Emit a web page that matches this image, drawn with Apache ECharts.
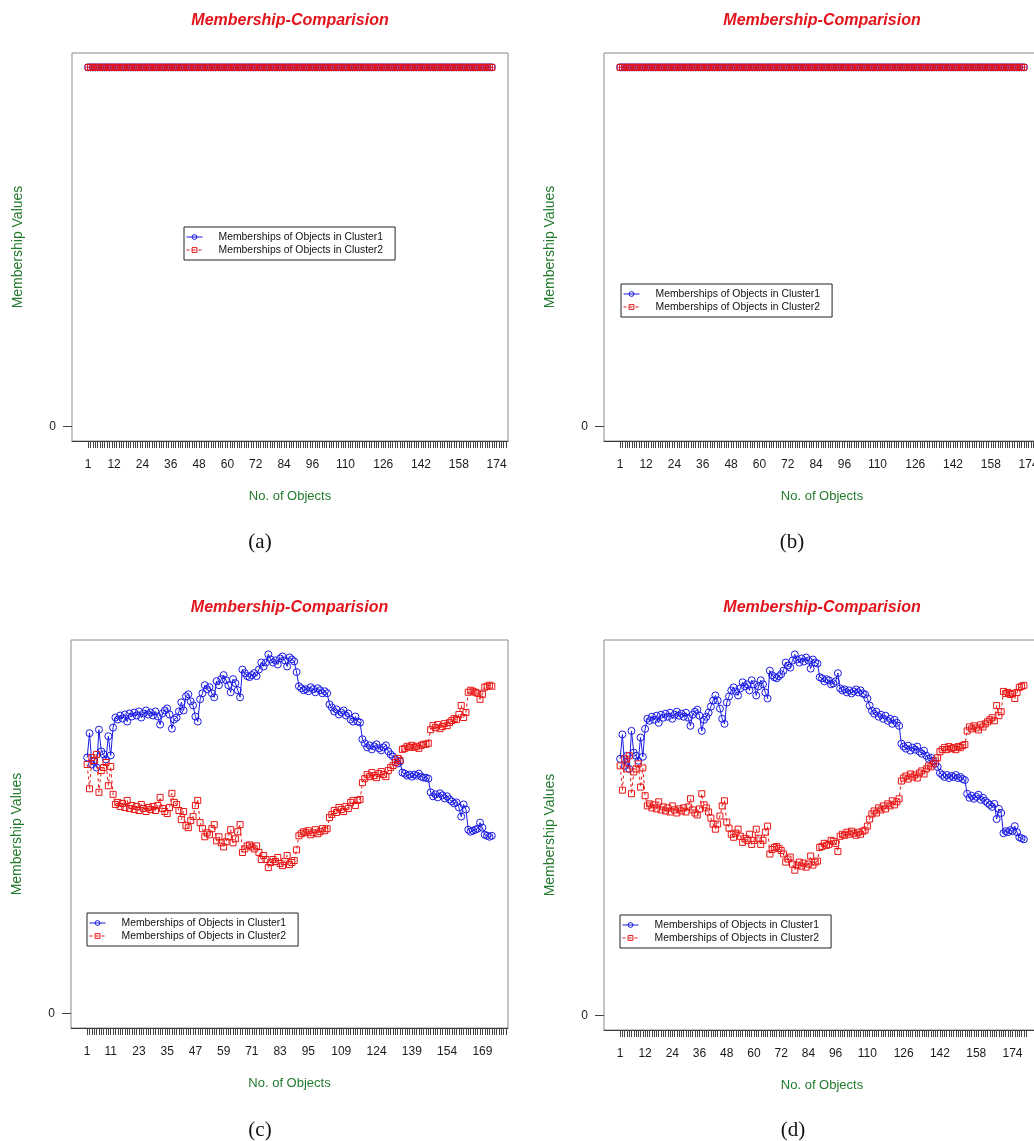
<!DOCTYPE html>
<html>
<head>
<meta charset="utf-8">
<title>Membership-Comparision</title>
<script src="https://cdn.jsdelivr.net/npm/echarts@6/dist/echarts.min.js"></script>
<style>
  html, body { margin: 0; padding: 0; background: #ffffff; }
  #chart { width: 1034px; height: 1141px; }
</style>
</head>
<body>
<div id="chart"></div>
<script>
// ---- membership values, one entry per object ----
// (a): every object shares both clusters equally
const aCluster1 = [
  0.5,0.5,0.5,0.5,0.5,0.5,0.5,0.5,0.5,0.5, 0.5,0.5,0.5,0.5,0.5,0.5,0.5,0.5,0.5,0.5,
  0.5,0.5,0.5,0.5,0.5,0.5,0.5,0.5,0.5,0.5, 0.5,0.5,0.5,0.5,0.5,0.5,0.5,0.5,0.5,0.5,
  0.5,0.5,0.5,0.5,0.5,0.5,0.5,0.5,0.5,0.5, 0.5,0.5,0.5,0.5,0.5,0.5,0.5,0.5,0.5,0.5,
  0.5,0.5,0.5,0.5,0.5,0.5,0.5,0.5,0.5,0.5, 0.5,0.5,0.5,0.5,0.5,0.5,0.5,0.5,0.5,0.5,
  0.5,0.5,0.5,0.5,0.5,0.5,0.5,0.5,0.5,0.5, 0.5,0.5,0.5,0.5,0.5,0.5,0.5,0.5,0.5,0.5,
  0.5,0.5,0.5,0.5,0.5,0.5,0.5,0.5,0.5,0.5, 0.5,0.5,0.5,0.5,0.5,0.5,0.5,0.5,0.5,0.5,
  0.5,0.5,0.5,0.5,0.5,0.5,0.5,0.5,0.5,0.5, 0.5,0.5,0.5,0.5,0.5,0.5,0.5,0.5,0.5,0.5,
  0.5,0.5,0.5,0.5,0.5,0.5,0.5,0.5,0.5,0.5, 0.5,0.5,0.5,0.5,0.5,0.5,0.5,0.5,0.5,0.5,
  0.5,0.5,0.5,0.5,0.5,0.5,0.5,0.5,0.5,0.5, 0.5,0.5
];
const aCluster2 = [
  0.5,0.5,0.5,0.5,0.5,0.5,0.5,0.5,0.5,0.5, 0.5,0.5,0.5,0.5,0.5,0.5,0.5,0.5,0.5,0.5,
  0.5,0.5,0.5,0.5,0.5,0.5,0.5,0.5,0.5,0.5, 0.5,0.5,0.5,0.5,0.5,0.5,0.5,0.5,0.5,0.5,
  0.5,0.5,0.5,0.5,0.5,0.5,0.5,0.5,0.5,0.5, 0.5,0.5,0.5,0.5,0.5,0.5,0.5,0.5,0.5,0.5,
  0.5,0.5,0.5,0.5,0.5,0.5,0.5,0.5,0.5,0.5, 0.5,0.5,0.5,0.5,0.5,0.5,0.5,0.5,0.5,0.5,
  0.5,0.5,0.5,0.5,0.5,0.5,0.5,0.5,0.5,0.5, 0.5,0.5,0.5,0.5,0.5,0.5,0.5,0.5,0.5,0.5,
  0.5,0.5,0.5,0.5,0.5,0.5,0.5,0.5,0.5,0.5, 0.5,0.5,0.5,0.5,0.5,0.5,0.5,0.5,0.5,0.5,
  0.5,0.5,0.5,0.5,0.5,0.5,0.5,0.5,0.5,0.5, 0.5,0.5,0.5,0.5,0.5,0.5,0.5,0.5,0.5,0.5,
  0.5,0.5,0.5,0.5,0.5,0.5,0.5,0.5,0.5,0.5, 0.5,0.5,0.5,0.5,0.5,0.5,0.5,0.5,0.5,0.5,
  0.5,0.5,0.5,0.5,0.5,0.5,0.5,0.5,0.5,0.5, 0.5,0.5
];
// (b): same flat split
const bCluster1 = [
  0.5,0.5,0.5,0.5,0.5,0.5,0.5,0.5,0.5,0.5, 0.5,0.5,0.5,0.5,0.5,0.5,0.5,0.5,0.5,0.5,
  0.5,0.5,0.5,0.5,0.5,0.5,0.5,0.5,0.5,0.5, 0.5,0.5,0.5,0.5,0.5,0.5,0.5,0.5,0.5,0.5,
  0.5,0.5,0.5,0.5,0.5,0.5,0.5,0.5,0.5,0.5, 0.5,0.5,0.5,0.5,0.5,0.5,0.5,0.5,0.5,0.5,
  0.5,0.5,0.5,0.5,0.5,0.5,0.5,0.5,0.5,0.5, 0.5,0.5,0.5,0.5,0.5,0.5,0.5,0.5,0.5,0.5,
  0.5,0.5,0.5,0.5,0.5,0.5,0.5,0.5,0.5,0.5, 0.5,0.5,0.5,0.5,0.5,0.5,0.5,0.5,0.5,0.5,
  0.5,0.5,0.5,0.5,0.5,0.5,0.5,0.5,0.5,0.5, 0.5,0.5,0.5,0.5,0.5,0.5,0.5,0.5,0.5,0.5,
  0.5,0.5,0.5,0.5,0.5,0.5,0.5,0.5,0.5,0.5, 0.5,0.5,0.5,0.5,0.5,0.5,0.5,0.5,0.5,0.5,
  0.5,0.5,0.5,0.5,0.5,0.5,0.5,0.5,0.5,0.5, 0.5,0.5,0.5,0.5,0.5,0.5,0.5,0.5,0.5,0.5,
  0.5,0.5,0.5,0.5,0.5,0.5,0.5,0.5,0.5,0.5, 0.5,0.5
];
const bCluster2 = [
  0.5,0.5,0.5,0.5,0.5,0.5,0.5,0.5,0.5,0.5, 0.5,0.5,0.5,0.5,0.5,0.5,0.5,0.5,0.5,0.5,
  0.5,0.5,0.5,0.5,0.5,0.5,0.5,0.5,0.5,0.5, 0.5,0.5,0.5,0.5,0.5,0.5,0.5,0.5,0.5,0.5,
  0.5,0.5,0.5,0.5,0.5,0.5,0.5,0.5,0.5,0.5, 0.5,0.5,0.5,0.5,0.5,0.5,0.5,0.5,0.5,0.5,
  0.5,0.5,0.5,0.5,0.5,0.5,0.5,0.5,0.5,0.5, 0.5,0.5,0.5,0.5,0.5,0.5,0.5,0.5,0.5,0.5,
  0.5,0.5,0.5,0.5,0.5,0.5,0.5,0.5,0.5,0.5, 0.5,0.5,0.5,0.5,0.5,0.5,0.5,0.5,0.5,0.5,
  0.5,0.5,0.5,0.5,0.5,0.5,0.5,0.5,0.5,0.5, 0.5,0.5,0.5,0.5,0.5,0.5,0.5,0.5,0.5,0.5,
  0.5,0.5,0.5,0.5,0.5,0.5,0.5,0.5,0.5,0.5, 0.5,0.5,0.5,0.5,0.5,0.5,0.5,0.5,0.5,0.5,
  0.5,0.5,0.5,0.5,0.5,0.5,0.5,0.5,0.5,0.5, 0.5,0.5,0.5,0.5,0.5,0.5,0.5,0.5,0.5,0.5,
  0.5,0.5,0.5,0.5,0.5,0.5,0.5,0.5,0.5,0.5, 0.5,0.5
];
// (c): 173 objects
const cCluster1 = [
  0.507,0.555,0.493,0.499,0.487,0.562,0.519,0.513,0.503,0.549,
  0.511,0.566,0.586,0.582,0.590,0.584,0.592,0.578,0.594,0.588,
  0.596,0.590,0.598,0.586,0.594,0.600,0.592,0.596,0.590,0.598,
  0.588,0.572,0.594,0.600,0.604,0.592,0.564,0.582,0.586,0.598,
  0.616,0.600,0.628,0.632,0.618,0.610,0.588,0.578,0.622,0.634,
  0.650,0.642,0.646,0.634,0.626,0.658,0.650,0.662,0.670,0.660,
  0.650,0.636,0.662,0.654,0.640,0.626,0.681,0.674,0.668,0.666,
  0.670,0.674,0.668,0.681,0.695,0.687,0.695,0.711,0.701,0.695,
  0.699,0.691,0.703,0.707,0.699,0.687,0.705,0.701,0.697,0.676,
  0.648,0.644,0.640,0.642,0.638,0.646,0.642,0.636,0.644,0.640,
  0.634,0.638,0.634,0.612,0.606,0.598,0.602,0.592,0.596,0.600,
  0.590,0.594,0.582,0.578,0.588,0.578,0.576,0.543,0.535,0.527,
  0.531,0.523,0.529,0.533,0.525,0.521,0.527,0.531,0.519,0.513,
  0.509,0.503,0.495,0.499,0.477,0.475,0.471,0.473,0.469,0.473,
  0.471,0.475,0.469,0.467,0.467,0.465,0.438,0.430,0.434,0.428,
  0.436,0.432,0.426,0.430,0.424,0.420,0.416,0.418,0.408,0.390,
  0.414,0.404,0.364,0.360,0.362,0.364,0.366,0.378,0.368,0.354,
  0.352,0.350,0.352
];
const cCluster2 = [
  0.493,0.445,0.507,0.501,0.513,0.438,0.481,0.487,0.497,0.451,
  0.489,0.434,0.414,0.418,0.410,0.416,0.408,0.422,0.406,0.412,
  0.404,0.410,0.402,0.414,0.406,0.400,0.408,0.404,0.410,0.402,
  0.412,0.428,0.406,0.400,0.396,0.408,0.436,0.418,0.414,0.402,
  0.384,0.400,0.372,0.368,0.382,0.390,0.412,0.422,0.378,0.366,
  0.350,0.358,0.354,0.366,0.374,0.342,0.350,0.338,0.330,0.340,
  0.350,0.364,0.338,0.346,0.360,0.374,0.319,0.326,0.332,0.334,
  0.330,0.326,0.332,0.319,0.305,0.313,0.305,0.289,0.299,0.305,
  0.301,0.309,0.297,0.293,0.301,0.313,0.295,0.299,0.303,0.324,
  0.352,0.356,0.360,0.358,0.362,0.354,0.358,0.364,0.356,0.360,
  0.366,0.362,0.366,0.388,0.394,0.402,0.398,0.408,0.404,0.400,
  0.410,0.406,0.418,0.422,0.412,0.422,0.424,0.457,0.465,0.473,
  0.469,0.477,0.471,0.467,0.475,0.479,0.473,0.469,0.481,0.487,
  0.491,0.497,0.505,0.501,0.523,0.525,0.529,0.527,0.531,0.527,
  0.529,0.525,0.531,0.533,0.533,0.535,0.562,0.570,0.566,0.572,
  0.564,0.568,0.574,0.570,0.576,0.580,0.584,0.582,0.592,0.610,
  0.586,0.596,0.636,0.640,0.638,0.636,0.634,0.622,0.632,0.646,
  0.648,0.650,0.648
];
// (d): 179 objects
const dCluster1 = [
  0.507,0.555,0.493,0.513,0.487,0.562,0.519,0.513,0.503,0.549,
  0.511,0.566,0.586,0.582,0.590,0.584,0.592,0.578,0.594,0.588,
  0.596,0.590,0.598,0.586,0.594,0.600,0.592,0.596,0.590,0.598,
  0.588,0.572,0.594,0.600,0.604,0.592,0.562,0.584,0.590,0.598,
  0.610,0.622,0.632,0.622,0.606,0.586,0.576,0.618,0.630,0.642,
  0.648,0.640,0.632,0.646,0.658,0.650,0.654,0.642,0.662,0.654,
  0.632,0.650,0.662,0.654,0.638,0.626,0.681,0.672,0.668,0.666,
  0.670,0.674,0.681,0.697,0.691,0.687,0.701,0.713,0.703,0.697,
  0.705,0.699,0.707,0.701,0.685,0.703,0.697,0.695,0.668,0.666,
  0.660,0.664,0.662,0.654,0.656,0.660,0.676,0.646,0.642,0.644,
  0.638,0.642,0.636,0.640,0.644,0.638,0.642,0.636,0.634,0.626,
  0.612,0.602,0.596,0.600,0.590,0.594,0.586,0.592,0.582,0.586,
  0.576,0.584,0.578,0.572,0.537,0.531,0.527,0.533,0.523,0.529,
  0.525,0.531,0.521,0.517,0.523,0.513,0.507,0.509,0.503,0.497,
  0.491,0.479,0.475,0.471,0.475,0.469,0.473,0.471,0.475,0.469,
  0.471,0.467,0.465,0.438,0.430,0.434,0.428,0.432,0.436,0.426,
  0.430,0.424,0.420,0.416,0.412,0.418,0.388,0.408,0.400,0.360,
  0.364,0.362,0.366,0.364,0.374,0.362,0.352,0.350,0.348
];
const dCluster2 = [
  0.493,0.445,0.507,0.487,0.513,0.438,0.481,0.487,0.497,0.451,
  0.489,0.434,0.414,0.418,0.410,0.416,0.408,0.422,0.406,0.412,
  0.404,0.410,0.402,0.414,0.406,0.400,0.408,0.404,0.410,0.402,
  0.412,0.428,0.406,0.400,0.396,0.408,0.438,0.416,0.410,0.402,
  0.390,0.378,0.368,0.378,0.394,0.414,0.424,0.382,0.370,0.358,
  0.352,0.360,0.368,0.354,0.342,0.350,0.346,0.358,0.338,0.346,
  0.368,0.350,0.338,0.346,0.362,0.374,0.319,0.328,0.332,0.334,
  0.330,0.326,0.319,0.303,0.309,0.313,0.299,0.287,0.297,0.303,
  0.295,0.301,0.293,0.299,0.315,0.297,0.303,0.305,0.332,0.334,
  0.340,0.336,0.338,0.346,0.344,0.340,0.324,0.354,0.358,0.356,
  0.362,0.358,0.364,0.360,0.356,0.362,0.358,0.364,0.366,0.374,
  0.388,0.398,0.404,0.400,0.410,0.406,0.414,0.408,0.418,0.414,
  0.424,0.416,0.422,0.428,0.463,0.469,0.473,0.467,0.477,0.471,
  0.475,0.469,0.479,0.483,0.477,0.487,0.493,0.491,0.497,0.503,
  0.509,0.521,0.525,0.529,0.525,0.531,0.527,0.529,0.525,0.531,
  0.529,0.533,0.535,0.562,0.570,0.566,0.572,0.568,0.564,0.574,
  0.570,0.576,0.580,0.584,0.588,0.582,0.612,0.592,0.600,0.640,
  0.636,0.638,0.634,0.636,0.626,0.638,0.648,0.650,0.652
];

// ---- axis tick labels ----
const xLabelsA = [1, 12, 24, 36, 48, 60, 72, 84, 96, 110, 126, 142, 158, 174];
const xLabelsB = [1, 12, 24, 36, 48, 60, 72, 84, 96, 110, 126, 142, 158, 174];
const xLabelsC = [1, 11, 23, 35, 47, 59, 71, 83, 95, 109, 124, 139, 154, 169];
const xLabelsD = [1, 12, 24, 36, 48, 60, 72, 84, 96, 110, 126, 142, 158, 174];
const yLabels = [0];

const NAME1 = 'Memberships of Objects in Cluster1';
const NAME2 = 'Memberships of Objects in Cluster2';
const TITLE = 'Membership-Comparision';

// ---- panel layout (pixel boxes) ----
const panels = [
  { c1: aCluster1, c2: aCluster2, labels: xLabelsA, tickCount: 182,
    box: [72, 53, 436, 388], legend: [184, 227], caption: '(a)', cap: [260, 542] },
  { c1: bCluster1, c2: bCluster2, labels: xLabelsB, tickCount: 182,
    box: [604, 53, 436, 388], legend: [621, 284], caption: '(b)', cap: [792, 542] },
  { c1: cCluster1, c2: cCluster2, labels: xLabelsC, tickCount: 179,
    box: [71, 640, 437, 388], legend: [87, 913], caption: '(c)', cap: [260, 1130] },
  { c1: dCluster1, c2: dCluster2, labels: xLabelsD, tickCount: 180,
    box: [604, 640, 436, 390], legend: [620, 915], caption: '(d)', cap: [793, 1130] }
];

const SANS = '"Liberation Sans", Arial, sans-serif';
const SERIF = '"Liberation Serif", "DejaVu Serif", serif';
const BLUE = '#1a1ae6';
const RED = '#e81414';
const GREEN = '#237a2d';
const CLEAR = 'rgba(255,255,255,0)';

const grids = [], xAxes = [], yAxes = [], series = [], legends = [], graphics = [];

panels.forEach((p, k) => {
  const [left, top, width, height] = p.box;
  const n = p.c1.length;
  const yMax = Math.max(Math.max.apply(null, p.c1), Math.max.apply(null, p.c2));
  // 4% padding around the data range (x from 1..n, y from 0..max)
  const xPad = 0.04 * (n - 1);
  const yPad = 0.04 * yMax;

  grids.push({
    left: left, top: top, width: width, height: height,
    containLabel: false, outerBoundsMode: 'none',
    show: true, borderColor: '#8a8a8a', borderWidth: 1, backgroundColor: 'transparent'
  });

  const ticks = [];
  for (let t = 1; t <= p.tickCount; t++) ticks.push(t);

  xAxes.push({
    type: 'value', gridIndex: k,
    min: 1 - xPad, max: n + xPad,
    name: 'No. of Objects', nameLocation: 'middle', nameGap: 49,
    nameTextStyle: { color: GREEN, fontFamily: SANS, fontSize: 13 },
    axisLine: { show: true, onZero: false, lineStyle: { color: '#3a3a3a', width: 1 } },
    axisTick: { show: true, length: 7, customValues: ticks, lineStyle: { color: '#444', width: 1 } },
    axisLabel: { show: true, customValues: p.labels, margin: 18, color: '#1a1a1a',
                 fontFamily: SANS, fontSize: 12 },
    splitLine: { show: false }
  });

  yAxes.push({
    type: 'value', gridIndex: k,
    min: -yPad, max: yMax + yPad,
    name: 'Membership Values', nameLocation: 'middle', nameGap: 47,
    nameTextStyle: { color: GREEN, fontFamily: SANS, fontSize: 14 },
    axisLine: { show: false, onZero: false },
    axisTick: { show: true, length: 9, customValues: yLabels, lineStyle: { color: '#444', width: 1 } },
    axisLabel: { show: true, customValues: yLabels, margin: 16, color: '#1a1a1a',
                 fontFamily: SANS, fontSize: 12 },
    splitLine: { show: false }
  });

  series.push({
    type: 'line', name: NAME1, xAxisIndex: k, yAxisIndex: k,
    data: p.c1.map((v, i) => [i + 1, v]),
    symbol: 'circle', symbolSize: 7, showAllSymbol: true, clip: true,
    lineStyle: { color: BLUE, width: 1, type: 'solid' },
    itemStyle: { color: CLEAR, borderColor: BLUE, borderWidth: 1 },
    emphasis: { disabled: true }, silent: true, z: 2
  });
  series.push({
    type: 'line', name: NAME2, xAxisIndex: k, yAxisIndex: k,
    data: p.c2.map((v, i) => [i + 1, v]),
    symbol: 'rect', symbolSize: 6, showAllSymbol: true, clip: true,
    lineStyle: { color: RED, width: 1, type: [3, 3] },
    itemStyle: { color: CLEAR, borderColor: RED, borderWidth: 1 },
    emphasis: { disabled: true }, silent: true, z: 3
  });

  legends.push({
    orient: 'vertical', left: p.legend[0], top: p.legend[1],
    itemWidth: 16, itemHeight: 6, itemGap: 1,
    padding: [4, 12, 4, 2],
    borderColor: '#222', borderWidth: 1, backgroundColor: '#ffffff',
    selectedMode: false,
    textStyle: { fontFamily: SANS, fontSize: 10.4, color: '#111', lineHeight: 12, padding: [0, 0, 0, 11] },
    data: [
      { name: NAME1, itemStyle: { color: CLEAR, borderColor: BLUE, borderWidth: 1 },
        lineStyle: { color: BLUE, width: 1, type: 'solid' } },
      { name: NAME2, itemStyle: { color: CLEAR, borderColor: RED, borderWidth: 1 },
        lineStyle: { color: RED, width: 1, type: [3, 3] } }
    ]
  });

  graphics.push({
    type: 'text', x: left + width / 2, y: top - 32,
    style: { text: TITLE, fill: '#e3141c', font: 'italic bold 16px ' + SANS,
             align: 'center', verticalAlign: 'middle' }
  });
  graphics.push({
    type: 'text', x: p.cap[0], y: p.cap[1],
    style: { text: p.caption, fill: '#111', font: '21px ' + SERIF,
             align: 'center', verticalAlign: 'middle' }
  });
});

const chart = echarts.init(document.getElementById('chart'), null, { renderer: 'canvas' });
chart.setOption({
  backgroundColor: '#ffffff',
  animation: false,
  grid: grids,
  xAxis: xAxes,
  yAxis: yAxes,
  legend: legends,
  series: series,
  graphic: graphics
});
</script>
</body>
</html>
